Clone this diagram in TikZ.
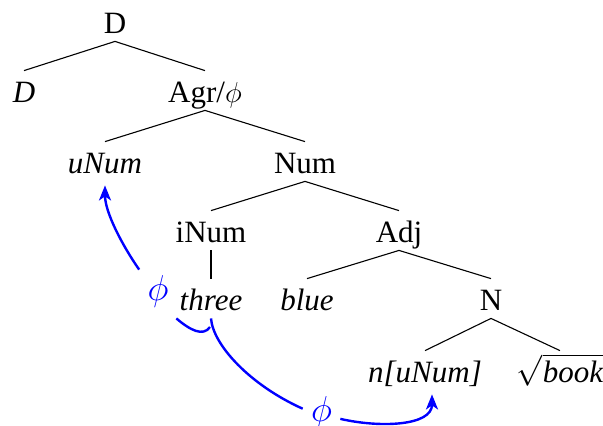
\RequirePackage{fix-cm}
\documentclass[tikz,border=0pt]{standalone}
\usepackage{fontspec}
\setmainfont{Liberation Serif}
\usetikzlibrary{arrows.meta}
\begin{document}
\begin{tikzpicture}[x=0.5pt,y=-0.5pt,
  font=\fontsize{15.5}{18}\selectfont,
  lbl/.style={anchor=base, text height=11.5pt, text depth=0pt, inner ysep=4pt, inner xsep=1.5pt},
  branch/.style={line width=0.55pt},
  move/.style={blue, line width=1.2pt, -{Stealth[length=7.5pt,width=6pt,inset=2pt]}},
  trace/.style={blue, line width=1.2pt},
  gap/.style={blue, inner xsep=4pt, inner ysep=2.5pt, anchor=base, font=\fontsize{18}{21}\selectfont}]
\useasboundingbox (0,0) rectangle (603,425);

% tree nodes (placed by baseline)
\node[lbl] (D)    at (115,33)  {D};
\node[lbl] (Dl)   at (24,102)  {\textit{D}};
\node[lbl] (Agr)  at (205,102) {Agr/{\fontsize{14.4}{17}\selectfont$\phi$}};
\node[lbl] (uNum) at (105,173) {\textit{uNum}};
\node[lbl] (Num)  at (305,173) {Num};
\node[lbl] (iNum) at (211,242) {iNum};
\node[lbl] (Adj)  at (399,242) {Adj};
\node[lbl] (three) at (211,310) {\textit{three}};
\node[lbl] (blue) at (307,310) {\textit{blue}};
\node[lbl] (N)    at (491,310) {N};
\node[lbl] (nU)   at (425,382) {\textit{n[uNum]}};
\node[lbl] (book) at (560,382) {$\sqrt{\textit{book}}$};

% empty positions
\node[gap] (phiA) at (158,300) {$\phi$};
\node[gap] (phiB) at (321.5,421) {$\phi$};

% branches
\draw[branch] (D.south) -- (Dl.north);
\draw[branch] (D.south) -- (Agr.north);
\draw[branch] (Agr.south) -- (uNum.north);
\draw[branch] (Agr.south) -- (Num.north);
\draw[branch] (Num.south) -- (iNum.north);
\draw[branch] (Num.south) -- (Adj.north);
\draw[branch] (iNum.south) -- (three.north);
\draw[branch] (Adj.south) -- (blue.north);
\draw[branch] (Adj.south) -- (N.north);
\draw[branch] (N.south) -- (nU.north);
\draw[branch] (N.south) -- (book.north);

% movement
\draw[move] (phiA.north west) .. controls (122,245) and (105,212) .. ([yshift=-2pt]uNum.south);
\draw[trace] (three.south west) .. controls (190,330) and (203,337) .. (210,327);
\draw[trace] (three.south) .. controls (213,345) and (250,385) .. (phiB.170);
\draw[move] (phiB.-20) .. controls (380,428) and (432,426) .. ([xshift=3.5pt,yshift=-2pt]nU.south);
\end{tikzpicture}
\end{document}
